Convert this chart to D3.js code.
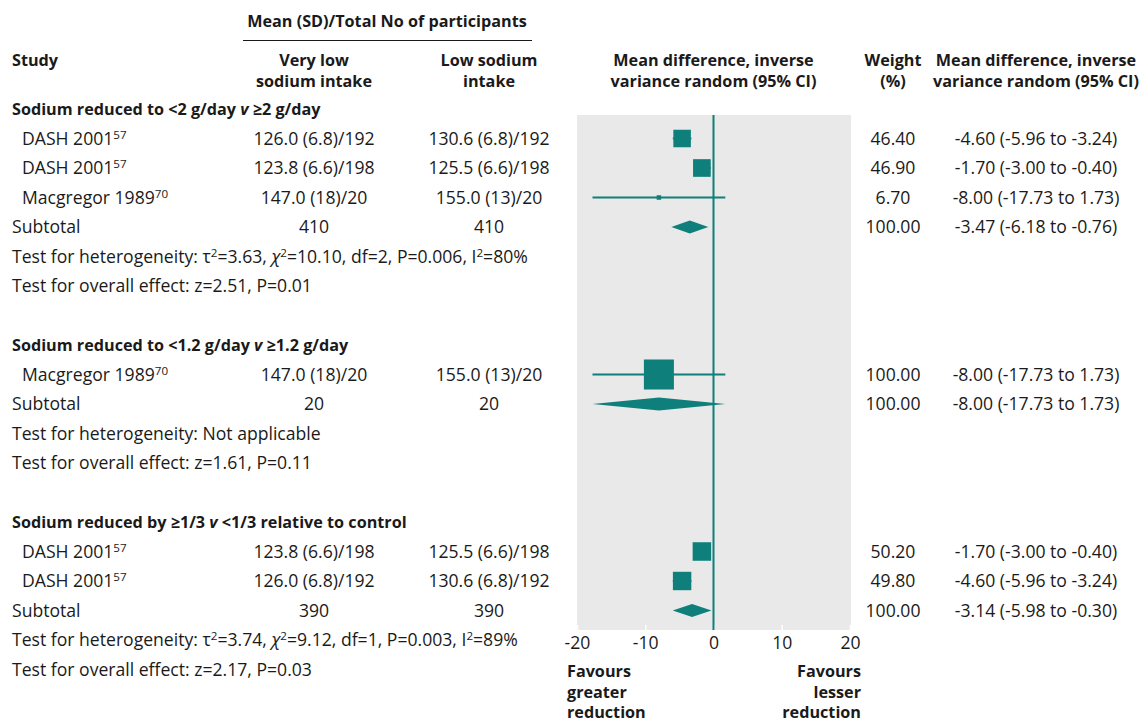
<!DOCTYPE html>
<html>
<head>
<meta charset="utf-8">
<script src="https://cdn.jsdelivr.net/npm/d3@7"></script>
<style>
  body { margin: 0; background: #fff; }
  svg text { font-family: "Open Sans", Lato, sans-serif; fill: #1a1a1a; }
</style>
</head>
<body>
<svg id="chart" width="1141" height="722"></svg>
<script>
// ---- data ----
const groupTitles = [
  ["Sodium reduced to <2 g/day ", "v", " ≥2 g/day"],
  ["Sodium reduced to <1.2 g/day ", "v", " ≥1.2 g/day"],
  ["Sodium reduced by ≥1/3 ", "v", " <1/3 relative to control"]
];
const studyGroup = [0, 0, 0, 1, 2, 2];
const studies = ["DASH 2001", "DASH 2001", "Macgregor 1989", "Macgregor 1989", "DASH 2001", "DASH 2001"];
const refs = ["57", "57", "70", "70", "57", "57"];
const veryLow = ["126.0 (6.8)/192", "123.8 (6.6)/198", "147.0 (18)/20", "147.0 (18)/20", "123.8 (6.6)/198", "126.0 (6.8)/192"];
const lowSodium = ["130.6 (6.8)/192", "125.5 (6.6)/198", "155.0 (13)/20", "155.0 (13)/20", "125.5 (6.6)/198", "130.6 (6.8)/192"];
const weights = [46.40, 46.90, 6.70, 100.00, 50.20, 49.80];
const meanDiff = [-4.60, -1.70, -8.00, -8.00, -1.70, -4.60];
const ciLow = [-5.96, -3.00, -17.73, -17.73, -3.00, -5.96];
const ciHigh = [-3.24, -0.40, 1.73, 1.73, -0.40, -3.24];

const subVeryLow = [410, 20, 390];
const subLow = [410, 20, 390];
const subMD = [-3.47, -8.00, -3.14];
const subLo = [-6.18, -17.73, -5.98];
const subHi = [-0.76, 1.73, -0.30];
const heterogeneity = [
  { tau: "3.63", chi: "10.10", df: "2", p: "0.006", i2: "80%" },
  null,
  { tau: "3.74", chi: "9.12", df: "1", p: "0.003", i2: "89%" }
];
const overall = ["z=2.51, P=0.01", "z=1.61, P=0.11", "z=2.17, P=0.03"];
const xTicks = [-20, -10, 0, 10, 20];

// ---- layout ----
const teal = "#0e7f7a";
const svg = d3.select("#chart");
const fs = 17.6;   // regular text
const fb = 16.2;   // bold text

const x = d3.scaleLinear().domain([-20, 20]).range([577, 850]);
const y = d3.scaleLinear().domain([0, 1]).range([109, 138.5]);
const size = d3.scalePow().exponent(0.7).domain([0, 100]).range([0, 30]);

const col = { study: 12, indent: 22, veryLow: 314, low: 489, weight: 893, ci: 1036 };

// build row list
const rows = [];
groupTitles.forEach((t, g) => {
  rows.push({ type: "title", g });
  studies.forEach((s, i) => { if (studyGroup[i] === g) rows.push({ type: "study", i }); });
  rows.push({ type: "subtotal", g });
  rows.push({ type: "het", g });
  rows.push({ type: "overall", g });
  rows.push({ type: "blank" });
});
rows.forEach((r, k) => r.y = y(k));

// plot panel
const panelTop = 115, panelBottom = 630;
svg.append("rect")
  .attr("x", x(-20)).attr("y", panelTop)
  .attr("width", x(20) - x(-20) + 1).attr("height", panelBottom - panelTop)
  .attr("fill", "#e9e9e9");

// axis
const axis = svg.append("g")
  .attr("transform", `translate(0,${panelBottom})`)
  .call(d3.axisBottom(x).tickValues(xTicks).tickSizeInner(-5).tickSizeOuter(0).tickPadding(6));
axis.select(".domain").remove();
axis.selectAll(".tick line").attr("stroke", "#fff").attr("stroke-width", 1.5);
axis.selectAll(".tick text")
  .attr("font-family", "'Open Sans', sans-serif").attr("font-size", fs).attr("fill", "#1a1a1a")
  .text(d => d < 0 ? "-" + Math.abs(d) : d);

// zero line
svg.append("line")
  .attr("x1", x(0)).attr("x2", x(0))
  .attr("y1", panelTop).attr("y2", panelBottom)
  .attr("stroke", teal).attr("stroke-width", 2);

// header
svg.append("text").attr("x", 387).attr("y", 27).attr("text-anchor", "middle")
  .attr("font-size", fb).attr("font-weight", "bold").text("Mean (SD)/Total No of participants");
svg.append("line").attr("x1", 243).attr("x2", 532).attr("y1", 40.5).attr("y2", 40.5)
  .attr("stroke", "#1a1a1a").attr("stroke-width", 1.2);

const headers = [
  { x: col.study, anchor: "start", lines: ["Study"] },
  { x: col.veryLow, anchor: "middle", lines: ["Very low", "sodium intake"] },
  { x: col.low, anchor: "middle", lines: ["Low sodium", "intake"] },
  { x: x(0), anchor: "middle", lines: ["Mean difference, inverse", "variance random (95% CI)"] },
  { x: col.weight, anchor: "middle", lines: ["Weight", "(%)"] },
  { x: col.ci, anchor: "middle", lines: ["Mean difference, inverse", "variance random (95% CI)"] }
];
headers.forEach(h => {
  h.lines.forEach((l, j) => {
    svg.append("text").attr("x", h.x).attr("y", 66 + j * 21)
      .attr("text-anchor", h.anchor).attr("font-size", fb).attr("font-weight", "bold").text(l);
  });
});

function txt(xp, yp, anchor, bold) {
  return svg.append("text").attr("x", xp).attr("y", yp).attr("dy", "0.35em")
    .attr("text-anchor", anchor).attr("font-size", bold ? fb : fs)
    .attr("font-weight", bold ? "bold" : "normal");
}
// segments: [text, "sup" | "it" | null]
function rich(t, segs) {
  let raised = false;
  segs.forEach(([s, kind]) => {
    const sp = t.append("tspan").text(s);
    if (kind === "sup") {
      sp.attr("dy", -6).attr("font-size", fs * 0.66);
      raised = true;
    } else {
      if (raised) { sp.attr("dy", 6); raised = false; }
      if (kind === "it") sp.attr("font-style", "italic");
    }
  });
}
const fmt = d3.format(".2f");
const fmtSigned = v => (v < 0 ? "-" : "") + fmt(Math.abs(v));
const ciText = (m, lo, hi) => `${fmtSigned(m)} (${fmtSigned(lo)} to ${fmtSigned(hi)})`;

function diamond(yc, m, lo, hi) {
  const h = 6.5;
  svg.append("path")
    .attr("d", `M${x(lo)},${yc}L${x(m)},${yc - h}L${x(hi)},${yc}L${x(m)},${yc + h}Z`)
    .attr("fill", teal);
}

rows.forEach(r => {
  if (r.type === "title") {
    const parts = groupTitles[r.g];
    rich(txt(col.study, r.y, "start", true), [[parts[0]], [parts[1], "it"], [parts[2]]]);
  } else if (r.type === "study") {
    const i = r.i;
    rich(txt(col.indent, r.y, "start"), [[studies[i]], [refs[i], "sup"]]);
    txt(col.veryLow, r.y, "middle").text(veryLow[i]);
    txt(col.low, r.y, "middle").text(lowSodium[i]);
    txt(col.weight, r.y, "middle").text(fmt(weights[i]));
    txt(col.ci, r.y, "middle").text(ciText(meanDiff[i], ciLow[i], ciHigh[i]));
    svg.append("line")
      .attr("x1", x(ciLow[i])).attr("x2", x(ciHigh[i]))
      .attr("y1", r.y).attr("y2", r.y)
      .attr("stroke", teal).attr("stroke-width", 2);
    const s = size(weights[i]);
    svg.append("rect")
      .attr("x", x(meanDiff[i]) - s / 2).attr("y", r.y - s / 2)
      .attr("width", s).attr("height", s).attr("fill", teal);
  } else if (r.type === "subtotal") {
    const g = r.g;
    txt(col.study, r.y, "start").text("Subtotal");
    txt(col.veryLow, r.y, "middle").text(subVeryLow[g]);
    txt(col.low, r.y, "middle").text(subLow[g]);
    txt(col.weight, r.y, "middle").text(fmt(100));
    txt(col.ci, r.y, "middle").text(ciText(subMD[g], subLo[g], subHi[g]));
    diamond(r.y, subMD[g], subLo[g], subHi[g]);
  } else if (r.type === "het") {
    const h = heterogeneity[r.g];
    const t = txt(col.study, r.y, "start");
    if (!h) {
      t.text("Test for heterogeneity: Not applicable");
    } else {
      rich(t, [
        ["Test for heterogeneity: τ"], ["2", "sup"], [`=${h.tau}, `],
        ["χ", "it"], ["2", "sup"], [`=${h.chi}, df=${h.df}, P=${h.p}, I`],
        ["2", "sup"], [`=${h.i2}`]
      ]);
    }
  } else if (r.type === "overall") {
    txt(col.study, r.y, "start").text("Test for overall effect: " + overall[r.g]);
  }
});

// favours labels
["Favours", "greater", "reduction"].forEach((l, j) => {
  svg.append("text").attr("x", 567).attr("y", 677 + j * 20.5)
    .attr("font-size", fb).attr("font-weight", "bold").text(l);
});
["Favours", "lesser", "reduction"].forEach((l, j) => {
  svg.append("text").attr("x", 861).attr("y", 677 + j * 20.5).attr("text-anchor", "end")
    .attr("font-size", fb).attr("font-weight", "bold").text(l);
});
</script>
</body>
</html>
